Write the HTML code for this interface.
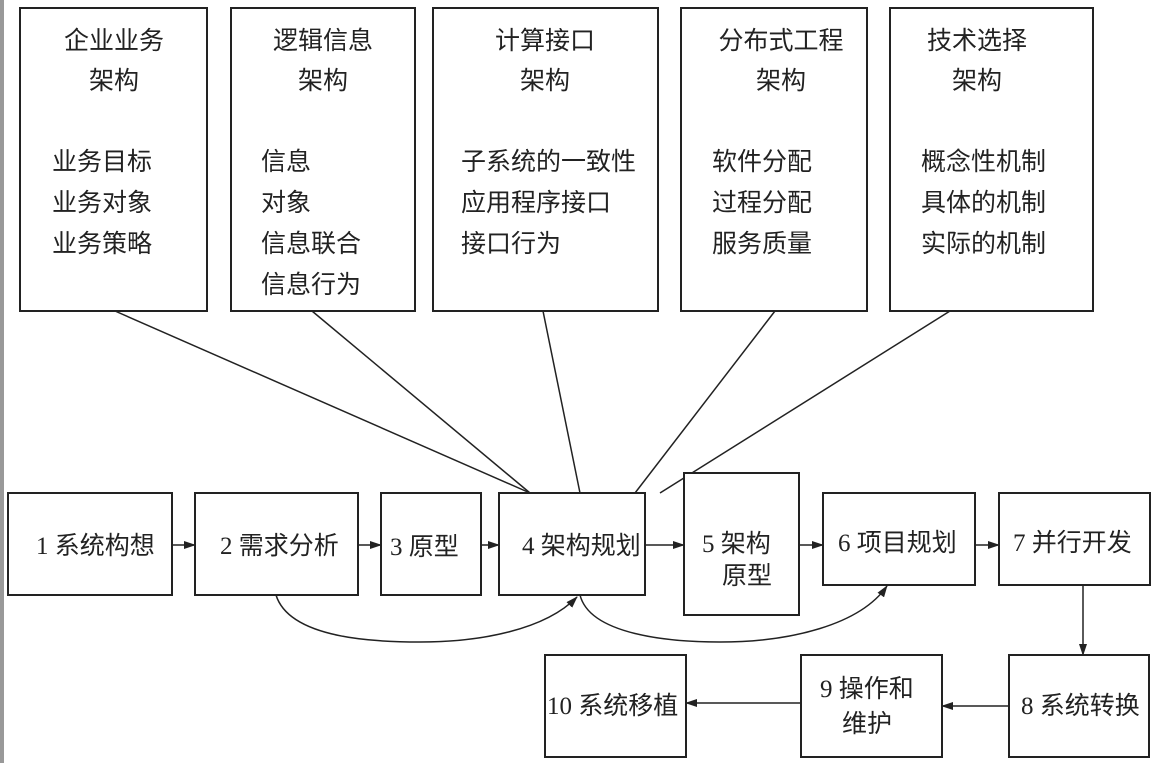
<!DOCTYPE html>
<html><head><meta charset="utf-8"><style>
html,body{margin:0;padding:0;background:#fff;}
svg{display:block}
text{font-family:"Liberation Serif","Noto Sans CJK SC",sans-serif;font-size:25px;fill:#222;}
</style></head><body>
<svg width="1156" height="763" viewBox="0 0 1156 763" xmlns="http://www.w3.org/2000/svg">
<defs><marker id="a" markerWidth="12" markerHeight="8" refX="11" refY="4" orient="auto" markerUnits="userSpaceOnUse"><path d="M0,0 L12,4 L0,8 Z" fill="#222"/></marker></defs>
<rect x="0" y="0" width="4" height="763" fill="#999"/>
<g stroke="#222" stroke-width="1.5" fill="none">
<line x1="115" y1="311" x2="530" y2="493"/>
<line x1="312" y1="311" x2="530" y2="493"/>
<line x1="543" y1="311" x2="580" y2="493"/>
<line x1="775" y1="311" x2="635" y2="493"/>
<line x1="950" y1="311" x2="660" y2="493"/>
</g>
<g stroke="#222" stroke-width="2" fill="#fff">
<rect x="20" y="8" width="187" height="303"/>
<rect x="231" y="8" width="184" height="303"/>
<rect x="433" y="8" width="225" height="303"/>
<rect x="681" y="8" width="186" height="303"/>
<rect x="890" y="8" width="203" height="303"/>
<rect x="8" y="493" width="164" height="102"/>
<rect x="195" y="493" width="163" height="102"/>
<rect x="381" y="493" width="100" height="102"/>
<rect x="499" y="493" width="146" height="102"/>
<rect x="684" y="473" width="115" height="142"/>
<rect x="823" y="493" width="152" height="92"/>
<rect x="999" y="493" width="151" height="92"/>
<rect x="1009" y="655" width="140" height="102"/>
<rect x="801" y="655" width="141" height="102"/>
<rect x="545" y="655" width="141" height="102"/>
</g>
<g stroke="#222" stroke-width="1.5" fill="none" marker-end="url(#a)">
<line x1="172" y1="545" x2="195" y2="545"/>
<line x1="358" y1="545" x2="381" y2="545"/>
<line x1="481" y1="545" x2="499" y2="545"/>
<line x1="645" y1="545" x2="684" y2="545"/>
<line x1="799" y1="545" x2="823" y2="545"/>
<line x1="975" y1="545" x2="999" y2="545"/>
<line x1="1083" y1="585" x2="1083" y2="655"/>
<line x1="1009" y1="706" x2="942" y2="706"/>
<line x1="801" y1="703" x2="686" y2="703"/>
<path d="M276,595 C290,640 380,642 420,642 C480,642 545,630 577,597"/>
<path d="M580,595 C590,635 670,642 720,642 C790,642 860,625 887,586"/>
</g>
<g text-anchor="middle">
<text x="114" y="49">企业业务</text><text x="114" y="89">架构</text>
<text x="323" y="49">逻辑信息</text><text x="323" y="89">架构</text>
<text x="545" y="49">计算接口</text><text x="545" y="89">架构</text>
<text x="781" y="49">分布式工程</text><text x="781" y="89">架构</text>
<text x="977" y="49">技术选择</text><text x="977" y="89">架构</text>
</g>
<text x="52" y="170">业务目标</text><text x="52" y="211">业务对象</text><text x="52" y="252">业务策略</text>
<text x="261" y="170">信息</text><text x="261" y="211">对象</text><text x="261" y="252">信息联合</text><text x="261" y="293">信息行为</text>
<text x="461" y="170">子系统的一致性</text><text x="461" y="211">应用程序接口</text><text x="461" y="252">接口行为</text>
<text x="712" y="170">软件分配</text><text x="712" y="211">过程分配</text><text x="712" y="252">服务质量</text>
<text x="921" y="170">概念性机制</text><text x="921" y="211">具体的机制</text><text x="921" y="252">实际的机制</text>
<text x="36" y="554">1 系统构想</text>
<text x="220" y="554">2 需求分析</text>
<text x="390" y="555">3 原型</text>
<text x="522" y="554">4 架构规划</text>
<text x="702" y="552">5 架构</text><text x="722" y="584">原型</text>
<text x="838" y="551">6 项目规划</text>
<text x="1013" y="551">7 并行开发</text>
<text x="1021" y="714">8 系统转换</text>
<text x="820" y="697">9 操作和</text><text x="842" y="732">维护</text>
<text x="547" y="714">10 系统移植</text>
</svg>
</body></html>
